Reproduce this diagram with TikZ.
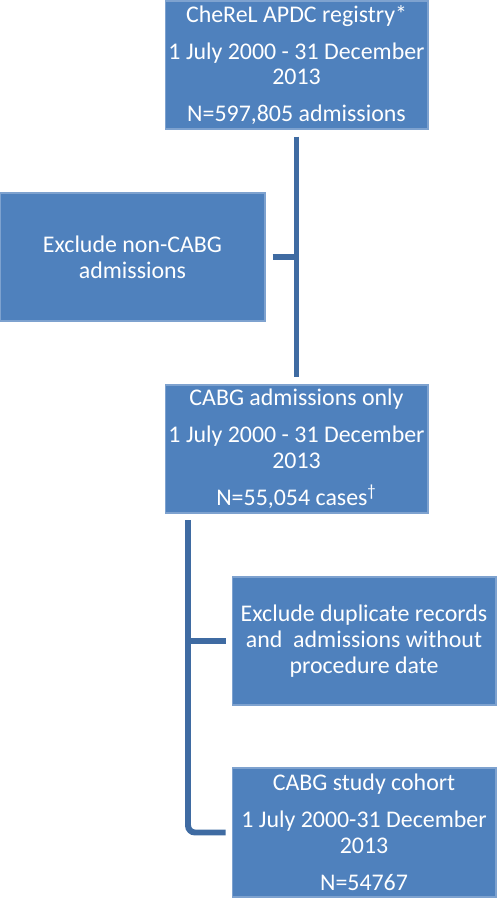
\documentclass[tikz,border=0pt]{standalone}
\usepackage{fontspec}
\setmainfont{Carlito}
\usepackage{xcolor}
\usepackage{tikz}

\definecolor{boxblue}{HTML}{4F81BD}
\definecolor{edgeblue}{HTML}{7EA2CF}
\definecolor{lineblue}{HTML}{3F6BA2}

\begin{document}
\begin{tikzpicture}[x=0.02cm,y=-0.02cm,
  stage/.style={rectangle,draw=edgeblue,line width=0.6pt,fill=boxblue,text=white,
    minimum width=5.26cm,minimum height=2.56cm,inner sep=0pt,
    align=center,font=\fontsize{13.6}{14.6}\selectfont},
  link/.style={lineblue,line width=3.4pt}]
\useasboundingbox (0,0) rectangle (497,898);
\node (reg) at (296.5,65) [stage] {CheReL APDC registry*\\[6.5pt]
  1 July 2000 - 31 December\\ 2013\\[6.5pt] N=597,805 admissions};
\node (excl1) at (132.5,257) [stage,minimum width=5.3cm] {Exclude non-CABG\\ admissions};
\node (cabg) at (296.5,449) [stage] {CABG admissions only\\[6.5pt]
  1 July 2000 - 31 December\\ 2013\\[6.5pt] N=55,054 cases\textsuperscript{\textdagger}};
\node (excl2) at (364,641) [stage,minimum width=5.28cm] {Exclude duplicate records\\
  and~~admissions without\\ procedure date};
\node (cohort) at (364,832.5) [stage,minimum width=5.28cm,minimum height=2.58cm] {CABG study cohort\\[6.5pt]
  1 July 2000-31 December\\ 2013\\[6.5pt] N=54767};
%
\coordinate (split) at (188,520);
%%
\draw [link,shorten <=0.14cm,shorten >=0.14cm] (reg) -- (cabg);
\draw [link,shorten <=0.14cm] (excl1.east) -- (excl1.east -| reg.south);
\draw [link,rounded corners=4pt,shorten >=0.12cm] (split) |- (cohort.west);
\draw [link,shorten >=0.12cm] (split |- excl2.west) -- (excl2.west);
\end{tikzpicture}
\end{document}
